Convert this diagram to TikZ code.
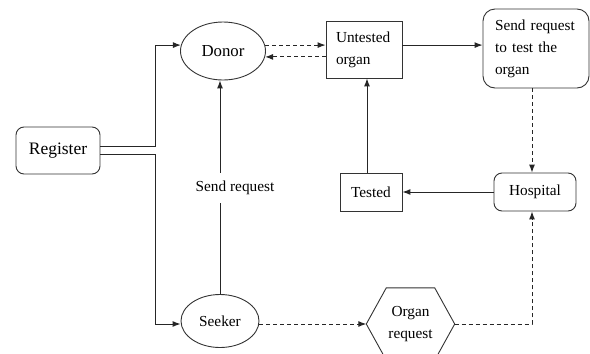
\documentclass[tikz,border=0pt]{standalone}
\usepackage{fontspec}
\setmainfont{Liberation Serif}
\usetikzlibrary{arrows.meta,shapes.geometric}
\begin{document}
\begin{tikzpicture}[x=1pt,y=-1pt,
  every node/.style={font=\fontsize{15.3}{22}\selectfont, inner sep=0pt},
  ln/.style={line width=1pt, draw=black!85},
  arr/.style={ln, -{Latex[length=8pt,width=6pt]}},
  dsh/.style={arr, dash pattern=on 4pt off 3pt},
  rbox/.style={draw=black!80, line width=0.9pt, rounded corners=8pt},
  sbox/.style={draw=black!80, line width=0.9pt},
  ell/.style={ellipse, draw=black!80, line width=0.9pt}]
\useasboundingbox (0,0) rectangle (590,354);
% nodes
\node[rbox, minimum width=84pt, minimum height=47pt, font=\fontsize{17.5}{20}\selectfont] (Register) at (58,150.5) {Register};
\node[ell, minimum width=85pt, minimum height=58pt, font=\fontsize{16.8}{20}\selectfont] (Donor) at (223,51) {Donor};
\node[sbox, minimum width=76pt, minimum height=57pt, text width=56pt, align=left] (Untested) at (364,49.5) {Untested\\organ};
\node[rbox, rounded corners=12pt, minimum width=106pt, minimum height=79pt, text width=82pt, align=left] (Send) at (536,48.5) {Send request\\to test the\\organ};
\node[sbox, minimum width=62pt, minimum height=38pt] (Tested) at (371,192) {Tested};
\node[rbox, minimum width=82pt, minimum height=38pt] (Hospital) at (535,192) {Hospital};
\node[ell, minimum width=78pt, minimum height=53pt] (Seeker) at (220,321) {Seeker};
\node[minimum width=88pt, minimum height=72pt, align=center] (Organ) at (410.5,324) {Organ\\request};
\draw[sbox] (Organ.west) -- ([xshift=20pt]Organ.north west) -- ([xshift=-20pt]Organ.north east) -- (Organ.east) -- ([xshift=-20pt]Organ.south east) -- ([xshift=20pt]Organ.south west) -- cycle;
% helper coordinates
\coordinate (xa) at (155,0);
\coordinate (xr) at (532,0);
\coordinate (xt) at (367,0);
% connectors
\draw[arr] ([yshift=4pt]Register.east) -- ([yshift=4pt]Register.east -| xa) -- (xa |- Donor.172) -- (Donor.172);
\draw[arr] ([yshift=-4pt]Register.east) -- ([yshift=-4pt]Register.east -| xa) -- (xa |- Organ.west) -- (Seeker.west |- Organ.west);
\draw[dsh] (Donor.8) -- (Donor.8 -| Untested.west);
\draw[dsh] (Donor.-8 -| Untested.west) -- (Donor.-8);
\draw[arr] (Donor.8 -| Untested.east) -- (Donor.8 -| Send.west);
\draw[dsh] (Send.south -| xr) -- (Hospital.north -| xr);
\draw[arr] (Hospital.west) -- (Tested.east);
\draw[arr] (Tested.north -| xt) -- (Untested.south -| xt);
\draw[arr] (Seeker.north) -- (Seeker.north |- Donor.south);
\draw[dsh] (Seeker.east |- Organ.west) -- (Organ.west);
\draw[dsh] (Organ.east) -- (Organ.east -| xr) -- (Hospital.south -| xr);
\node[fill=white, inner xsep=2pt, inner ysep=8pt] (SendReq) at (235,188) {Send request};
\end{tikzpicture}
\end{document}
